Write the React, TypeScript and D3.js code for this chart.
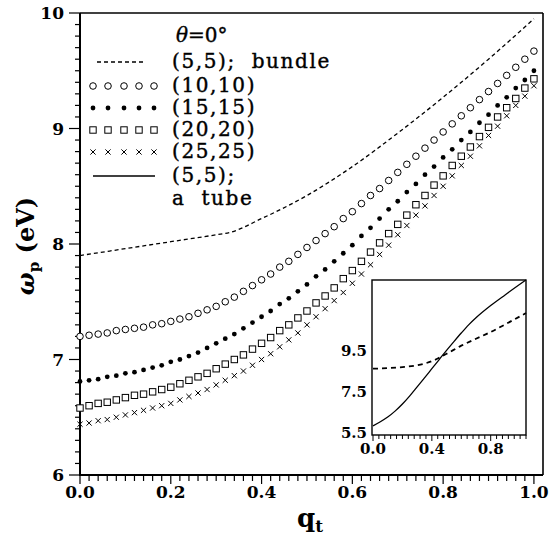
import React from "react";
import * as d3 from "d3";

const qGrid = [0,0.02,0.04,0.06,0.08,0.1,0.12,0.14,0.16,0.18,0.2,0.22,0.24,0.26,0.28,0.3,0.32,0.34,0.36,0.38,0.4,0.42,0.44,0.46,0.48,0.5,0.52,0.54,0.56,0.58,0.6,0.62,0.64,0.66,0.68,0.7,0.72,0.74,0.76,0.78,0.8,0.82,0.84,0.86,0.88,0.9,0.92,0.94,0.96,0.98,1.0];

const s10 = [7.20,7.21,7.22,7.23,7.25,7.26,7.27,7.28,7.30,7.31,7.33,7.35,7.37,7.40,7.43,7.46,7.50,7.54,7.59,7.64,7.69,7.74,7.80,7.85,7.91,7.97,8.03,8.09,8.15,8.22,8.28,8.35,8.42,8.48,8.55,8.62,8.69,8.76,8.83,8.90,8.97,9.04,9.11,9.18,9.25,9.32,9.39,9.46,9.53,9.60,9.67];
const s15 = [6.81,6.82,6.83,6.85,6.86,6.88,6.89,6.91,6.93,6.95,6.98,7.00,7.03,7.06,7.10,7.14,7.18,7.22,7.27,7.32,7.37,7.42,7.48,7.53,7.59,7.65,7.72,7.78,7.85,7.92,7.99,8.07,8.14,8.22,8.30,8.37,8.45,8.52,8.60,8.67,8.75,8.82,8.90,8.97,9.05,9.12,9.20,9.27,9.35,9.42,9.50];
const s20 = [6.58,6.60,6.62,6.63,6.65,6.67,6.69,6.70,6.72,6.74,6.76,6.79,6.82,6.85,6.88,6.92,6.96,7.00,7.04,7.09,7.14,7.19,7.25,7.30,7.36,7.42,7.49,7.55,7.62,7.70,7.77,7.85,7.93,8.01,8.09,8.17,8.25,8.34,8.42,8.51,8.59,8.68,8.76,8.84,8.93,9.01,9.10,9.18,9.26,9.35,9.43];
const s25 = [6.44,6.45,6.47,6.48,6.50,6.52,6.54,6.56,6.58,6.60,6.62,6.65,6.68,6.71,6.74,6.78,6.82,6.86,6.90,6.95,7.00,7.05,7.11,7.17,7.23,7.30,7.37,7.44,7.51,7.58,7.66,7.74,7.82,7.91,7.99,8.08,8.16,8.25,8.33,8.42,8.50,8.59,8.68,8.76,8.85,8.94,9.02,9.11,9.20,9.28,9.37];

const bundleQ = [0,0.1,0.2,0.3,0.33,0.4,0.5,0.6,0.7,0.8,0.9,1.0];
const bundleW = [7.90,7.96,8.02,8.08,8.10,8.22,8.42,8.67,8.96,9.27,9.60,9.95];

const insetTubeQ = [0,0.05,0.1,0.15,0.2,0.25,0.3,0.35,0.4,0.45,0.5,0.55,0.6,0.65,0.7,0.8,0.9,1.04];
const insetTubeW = [5.85,6.05,6.28,6.57,6.92,7.32,7.76,8.20,8.65,9.10,9.55,9.98,10.40,10.80,11.15,11.75,12.28,13.0];
const insetBundleQ = [0,0.1,0.2,0.3,0.4,0.44,0.5,0.6,0.7,0.8,0.9,1.04];
const insetBundleW = [8.65,8.68,8.73,8.82,9.02,9.15,9.38,9.78,10.12,10.45,10.83,11.38];

const xTicks = [0, 0.2, 0.4, 0.6, 0.8, 1.0];
const yTicks = [6, 7, 8, 9, 10];
const insetXTicks = [0, 0.4, 0.8];
const insetYTicks = [5.5, 7.5, 9.5];

const legendLabels = ["(5,5);  bundle", "(10,10)", "(15,15)", "(20,20)", "(25,25)", "(5,5);", "a  tube"];

const FONT = "'DejaVu Serif', serif";

export default function App() {
  const x = d3.scaleLinear().domain([0, 1.02]).range([80, 543]);
  const y = d3.scaleLinear().domain([6, 10]).range([475, 13]);
  const ix = d3.scaleLinear().domain([0, 1.04]).range([373, 526]);
  const iy = d3.scaleLinear().domain([5.4, 13.0]).range([435, 280]);

  const line = d3.line<[number, number]>().x(d => x(d[0])).y(d => y(d[1])).curve(d3.curveMonotoneX);
  const iline = d3.line<[number, number]>().x(d => ix(d[0])).y(d => iy(d[1])).curve(d3.curveMonotoneX);

  const bundlePts = bundleQ.map((q, i) => [q, bundleW[i]] as [number, number]);
  const iTube = insetTubeQ.map((q, i) => [q, insetTubeW[i]] as [number, number]);
  const iBundle = insetBundleQ.map((q, i) => [q, insetBundleW[i]] as [number, number]);

  const xMinor = d3.range(0, 51).map(i => i * 0.02);
  const yMinor = d3.range(0, 41).map(i => 6 + i * 0.1);
  const ixMinor = d3.range(0, 27).map(i => i * 0.04);

  const circle = (cx: number, cy: number, k: string) => <circle key={k} cx={cx} cy={cy} r={3.3} fill="white" stroke="black" strokeWidth={1} />;
  const dot = (cx: number, cy: number, k: string) => <circle key={k} cx={cx} cy={cy} r={2.4} fill="black" />;
  const square = (cx: number, cy: number, k: string) => <rect key={k} x={cx - 3.2} y={cy - 3.2} width={6.4} height={6.4} fill="white" stroke="black" strokeWidth={1} />;
  const cross = (cx: number, cy: number, k: string) => <path key={k} d={`M${cx-2.6},${cy-2.6}L${cx+2.6},${cy+2.6}M${cx-2.6},${cy+2.6}L${cx+2.6},${cy-2.6}`} stroke="black" strokeWidth={1} />;

  const legX = [93, 108, 124, 139, 154];
  const rowY = [62, 86, 108, 130, 152, 176, 199];

  return (
    <svg width={554} height={539} style={{ position: "absolute", left: 0, top: 0, background: "white" }} fontFamily={FONT}>
      <rect x={0} y={0} width={554} height={539} fill="white" />
      <line x1={80} y1={13} x2={543} y2={13} stroke="black" strokeWidth={1.6} />
      <line x1={543} y1={13} x2={543} y2={475} stroke="black" strokeWidth={1.6} />
      <line x1={80} y1={13} x2={80} y2={476} stroke="black" strokeWidth={2} />
      <line x1={79} y1={475} x2={543} y2={475} stroke="black" strokeWidth={2} />
      {xMinor.map((v, i) => {
        const major = i % 10 === 0;
        return <line key={"xm" + i} x1={x(v)} x2={x(v)} y1={475} y2={major ? 484 : 481} stroke="black" strokeWidth={1.2} />;
      })}
      {yMinor.map((v, i) => {
        const major = i % 10 === 0;
        return <line key={"ym" + i} x1={80} x2={major ? 69 : 75} y1={y(v)} y2={y(v)} stroke="black" strokeWidth={1.2} />;
      })}
      {xTicks.map(v => (
        <text key={"xt" + v} x={x(v)} y={498} textAnchor="middle" fontSize={17} fontWeight="bold">{v.toFixed(1)}</text>
      ))}
      {yTicks.map(v => (
        <text key={"yt" + v} x={64} y={y(v) + 6} textAnchor="end" fontSize={17} fontWeight="bold">{v}</text>
      ))}
      <text x={310} y={527} textAnchor="middle" fontSize={26} fontWeight="bold">q<tspan fontSize={17} dy={5}>t</tspan></text>
      <text transform="translate(34,246) rotate(-90)" textAnchor="middle" fontSize={24} fontWeight="bold">
        <tspan fontStyle="italic">ω</tspan><tspan fontSize={15} dy={5}>p</tspan><tspan dy={-5}> (eV)</tspan>
      </text>

      <path d={line(bundlePts) || ""} fill="none" stroke="black" strokeWidth={1.3} strokeDasharray="4,3" />
      {qGrid.map((q, i) => circle(x(q), y(s10[i]), "c" + i))}
      {qGrid.map((q, i) => dot(x(q), y(s15[i]), "d" + i))}
      {qGrid.map((q, i) => square(x(q), y(s20[i]), "s" + i))}
      {qGrid.map((q, i) => cross(x(q), y(s25[i]), "x" + i))}

      <text x={176} y={42} fontSize={20} stroke="black" strokeWidth={0.4}><tspan fontStyle="italic">θ</tspan>=0°</text>
      <line x1={97} x2={143} y1={rowY[0]} y2={rowY[0]} stroke="black" strokeWidth={1.3} strokeDasharray="4,3" />
      {legX.map((lx, i) => circle(lx, rowY[1], "lc" + i))}
      {legX.map((lx, i) => dot(lx, rowY[2], "ld" + i))}
      {legX.map((lx, i) => square(lx, rowY[3], "ls" + i))}
      {legX.map((lx, i) => cross(lx, rowY[4], "lx" + i))}
      <line x1={93} x2={155} y1={rowY[5]} y2={rowY[5]} stroke="black" strokeWidth={1.3} />
      {legendLabels.map((t, i) => (
        <text key={"lg" + i} x={172} y={rowY[i] + 6} fontSize={20} letterSpacing={1.6} stroke="black" strokeWidth={0.4} style={{ whiteSpace: "pre" }}>{t}</text>
      ))}

      <rect x={372} y={280} width={154} height={155} fill="white" stroke="black" strokeWidth={1.4} />
      {ixMinor.map((v, i) => (
        <line key={"ixm" + i} x1={ix(v)} x2={ix(v)} y1={435} y2={i % 10 === 0 ? 441 : 439} stroke="black" strokeWidth={1} />
      ))}
      {insetXTicks.map(v => (
        <text key={"ixt" + v} x={ix(v)} y={454} textAnchor="middle" fontSize={15} fontWeight="bold">{v.toFixed(1)}</text>
      ))}
      {insetYTicks.map(v => (
        <text key={"iyt" + v} x={367} y={iy(v) + 5} textAnchor="end" fontSize={15} fontWeight="bold">{v.toFixed(1)}</text>
      ))}
      <path d={iline(iTube) || ""} fill="none" stroke="black" strokeWidth={1.3} />
      <path d={iline(iBundle) || ""} fill="none" stroke="black" strokeWidth={1.8} strokeDasharray="5,4" />
    </svg>
  );
}
